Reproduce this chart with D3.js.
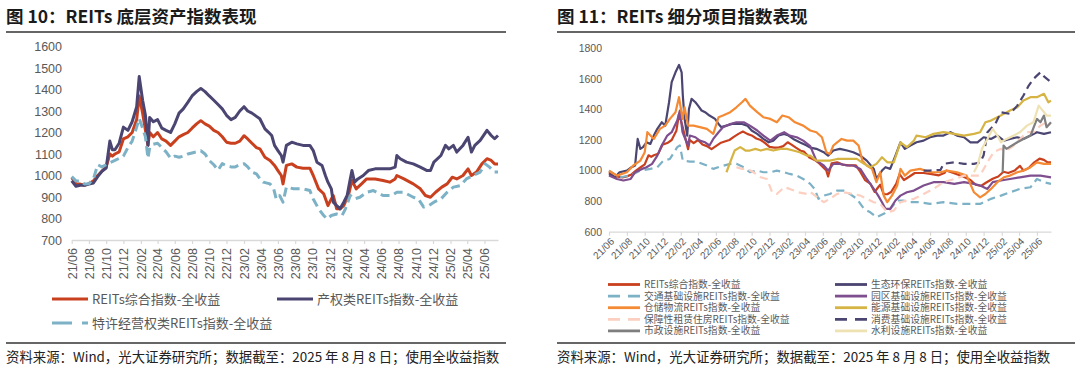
<!DOCTYPE html>
<html><head><meta charset="utf-8">
<script src="https://cdn.jsdelivr.net/npm/d3@7/dist/d3.min.js"></script>
<style>
body{margin:0;background:#fff;}
svg{display:block;font-family:"Noto Sans CJK SC","Noto Sans",sans-serif;}
</style></head><body>
<svg id="c" width="1080" height="371"></svg>
<script>
// ---------- DATA ----------
const tickLabels = ["21/06","21/08","21/10","21/12","22/02","22/04","22/06","22/08","22/10","22/12","23/02","23/04","23/06","23/08","23/10","23/12","24/02","24/04","24/06","24/08","24/10","24/12","25/02","25/04","25/06"];
const startDate = "2021-06-21", endDate = "2025-08-08";
const leftYTicks = [700,800,900,1000,1100,1200,1300,1400,1500,1600];
const rightYTicks = [600,800,1000,1200,1400,1600,1800];

const titleLeft = "图 10：REITs 底层资产指数表现";
const titleRight = "图 11：REITs 细分项目指数表现";
const sourceText = "资料来源：Wind，光大证券研究所；数据截至：2025 年 8 月 8 日；使用全收益指数";

// REITs综合指数-全收益
const reitsComposite = [["2021-06-21",990],["2021-07-06",962],["2021-07-21",960],["2021-08-06",955],["2021-08-21",962],["2021-09-06",975],["2021-09-21",1000],["2021-10-06",1020],["2021-10-21",1040],["2021-11-03",1100],["2021-11-12",1090],["2021-11-21",1100],["2021-12-06",1110],["2021-12-21",1170],["2022-01-06",1180],["2022-01-21",1200],["2022-02-06",1260],["2022-02-15",1370],["2022-02-27",1290],["2022-03-09",1210],["2022-03-18",1140],["2022-03-24",1200],["2022-04-06",1180],["2022-04-21",1200],["2022-05-06",1170],["2022-05-21",1160],["2022-06-06",1140],["2022-06-21",1160],["2022-07-06",1180],["2022-07-21",1190],["2022-08-06",1200],["2022-08-21",1220],["2022-09-06",1240],["2022-09-21",1255],["2022-10-06",1240],["2022-10-21",1230],["2022-11-06",1210],["2022-11-21",1200],["2022-12-06",1180],["2022-12-21",1155],["2023-01-06",1150],["2023-01-21",1150],["2023-02-06",1160],["2023-02-21",1185],["2023-03-06",1170],["2023-03-21",1150],["2023-04-06",1130],["2023-04-18",1124],["2023-05-06",1085],["2023-05-24",1070],["2023-06-09",1047],["2023-06-21",1023],["2023-07-03",1000],["2023-07-09",961],["2023-07-21",1047],["2023-08-09",1054],["2023-08-27",1039],["2023-09-18",1034],["2023-10-12",1034],["2023-10-24",1000],["2023-11-12",938],["2023-11-30",915],["2023-12-15",860],["2023-12-27",891],["2024-01-03",907],["2024-01-15",845],["2024-01-27",845],["2024-02-09",860],["2024-02-27",915],["2024-03-09",977],["2024-03-24",938],["2024-04-12",961],["2024-04-30",984],["2024-05-30",984],["2024-06-27",977],["2024-07-21",969],["2024-08-09",984],["2024-08-15",1000],["2024-09-09",984],["2024-10-12",961],["2024-11-06",938],["2024-11-24",907],["2024-12-12",899],["2024-12-30",922],["2025-01-21",946],["2025-02-09",961],["2025-02-27",992],["2025-03-15",984],["2025-04-06",1000],["2025-04-24",1031],["2025-05-06",1000],["2025-05-24",1016],["2025-06-12",1054],["2025-06-30",1078],["2025-07-15",1070],["2025-07-27",1054],["2025-08-08",1054]];

// 产权类REITs指数-全收益
const propertyReits = [["2021-06-21",975],["2021-07-06",950],["2021-07-21",955],["2021-08-06",955],["2021-08-21",960],["2021-09-06",965],["2021-09-21",995],["2021-10-06",1020],["2021-10-21",1035],["2021-11-03",1160],["2021-11-12",1120],["2021-11-21",1120],["2021-12-06",1150],["2021-12-21",1225],["2022-01-06",1210],["2022-01-21",1250],["2022-02-06",1320],["2022-02-15",1460],["2022-02-27",1350],["2022-03-09",1280],["2022-03-18",1140],["2022-03-24",1270],["2022-04-06",1250],["2022-04-21",1260],["2022-05-06",1220],["2022-05-21",1210],["2022-06-06",1200],["2022-06-21",1240],["2022-07-06",1290],["2022-07-21",1310],["2022-08-06",1340],["2022-08-21",1370],["2022-09-06",1390],["2022-09-21",1405],["2022-10-06",1390],["2022-10-21",1370],["2022-11-06",1350],["2022-11-21",1330],["2022-12-06",1310],["2022-12-21",1280],["2023-01-06",1260],["2023-01-21",1270],["2023-02-06",1300],["2023-02-21",1320],["2023-03-06",1300],["2023-03-21",1290],["2023-04-06",1275],["2023-04-18",1264],["2023-05-06",1217],["2023-05-18",1202],["2023-05-30",1186],["2023-06-09",1140],["2023-06-21",1116],["2023-07-03",1093],["2023-07-09",1062],["2023-07-21",1140],["2023-08-09",1155],["2023-08-27",1147],["2023-09-18",1140],["2023-10-12",1140],["2023-10-24",1116],["2023-11-06",1062],["2023-11-24",1047],["2023-12-06",1000],["2023-12-15",969],["2023-12-27",938],["2024-01-03",876],["2024-01-15",860],["2024-01-27",845],["2024-02-09",876],["2024-02-21",907],["2024-03-03",984],["2024-03-09",1023],["2024-03-18",969],["2024-03-30",984],["2024-04-18",1000],["2024-05-06",1023],["2024-05-30",1031],["2024-06-27",1031],["2024-07-21",1031],["2024-08-09",1039],["2024-08-15",1093],["2024-08-27",1078],["2024-09-18",1062],["2024-10-12",1054],["2024-11-06",1039],["2024-11-30",1023],["2024-12-12",1023],["2024-12-24",1062],["2025-01-18",1093],["2025-02-03",1140],["2025-02-15",1124],["2025-03-03",1140],["2025-03-15",1109],["2025-04-06",1140],["2025-04-24",1178],["2025-05-06",1109],["2025-05-18",1140],["2025-06-06",1163],["2025-06-30",1210],["2025-07-15",1186],["2025-07-27",1171],["2025-08-08",1186]];

// 特许经营权类REITs指数-全收益
const franchiseReits = [["2021-06-21",995],["2021-07-06",975],["2021-07-21",975],["2021-08-06",960],["2021-08-21",962],["2021-09-06",985],["2021-09-21",1050],["2021-10-06",1040],["2021-10-21",1050],["2021-11-03",1060],["2021-11-21",1070],["2021-12-06",1080],["2021-12-21",1090],["2022-01-06",1130],["2022-01-21",1160],["2022-02-06",1225],["2022-02-15",1265],["2022-02-27",1220],["2022-03-09",1180],["2022-03-18",1080],["2022-03-24",1130],["2022-04-06",1145],["2022-04-21",1150],["2022-05-06",1130],["2022-05-21",1110],["2022-06-06",1080],["2022-06-21",1090],["2022-07-06",1085],["2022-07-21",1090],["2022-08-06",1100],["2022-08-21",1105],["2022-09-06",1110],["2022-09-21",1115],["2022-10-06",1100],["2022-10-21",1070],["2022-11-06",1050],["2022-11-21",1025],["2022-12-06",1055],["2022-12-21",1045],["2023-01-06",1040],["2023-01-21",1040],["2023-02-06",1050],["2023-02-21",1055],["2023-03-06",1040],["2023-03-21",1016],["2023-04-06",1008],["2023-04-21",980],["2023-04-30",969],["2023-05-24",961],["2023-06-06",938],["2023-06-15",891],["2023-06-27",907],["2023-07-09",876],["2023-07-21",946],["2023-08-15",938],["2023-09-18",938],["2023-10-12",930],["2023-10-24",891],["2023-11-12",845],["2023-11-30",814],["2023-12-12",798],["2023-12-27",814],["2024-01-15",821],["2024-02-03",814],["2024-02-15",845],["2024-03-03",907],["2024-03-18",891],["2024-04-06",899],["2024-04-30",922],["2024-05-24",930],["2024-06-27",907],["2024-07-27",907],["2024-08-15",922],["2024-09-09",922],["2024-10-12",899],["2024-10-30",891],["2024-11-18",853],["2024-12-06",860],["2024-12-24",876],["2025-01-18",891],["2025-02-09",922],["2025-03-03",946],["2025-03-27",953],["2025-04-18",984],["2025-05-12",1000],["2025-06-06",1016],["2025-06-24",1054],["2025-07-09",1039],["2025-07-27",1016],["2025-08-08",1016]];

// 生态环保REITs指数-全收益
const ecoReits = [["2021-06-21",978],["2021-07-12",956],["2021-07-27",989],["2021-08-21",1000],["2021-09-06",1022],["2021-09-18",1033],["2021-09-27",1207],["2021-10-06",1142],["2021-10-15",1153],["2021-10-27",1185],["2021-11-09",1174],["2021-11-21",1229],["2021-12-03",1273],["2021-12-18",1316],["2021-12-30",1294],["2022-01-12",1447],["2022-01-21",1578],["2022-02-03",1643],["2022-02-15",1691],["2022-02-24",1643],["2022-02-28",1491],["2022-03-06",1338],["2022-03-15",1229],["2022-03-21",1403],["2022-03-30",1469],["2022-04-12",1447],["2022-04-21",1425],["2022-05-03",1393],["2022-05-15",1382],["2022-05-30",1360],["2022-06-18",1338],["2022-06-30",1305],["2022-07-09",1284],["2022-07-27",1294],["2022-08-15",1305],["2022-08-30",1305],["2022-09-18",1305],["2022-10-06",1294],["2022-10-21",1262],["2022-11-09",1240],["2022-11-30",1207],["2022-12-18",1185],["2023-01-03",1196],["2023-01-21",1229],["2023-02-09",1240],["2023-02-24",1229],["2023-03-12",1207],["2023-04-03",1185],["2023-04-27",1164],["2023-05-09",1150],["2023-05-30",1142],["2023-06-24",1120],["2023-07-09",1098],["2023-07-27",1131],["2023-08-18",1142],["2023-09-12",1131],["2023-10-03",1120],["2023-10-27",1098],["2023-11-18",1065],["2023-12-12",1011],["2023-12-21",945],["2024-01-09",1000],["2024-01-21",1022],["2024-02-06",1011],["2024-02-24",1098],["2024-03-12",1185],["2024-03-27",1142],["2024-04-15",1164],["2024-05-06",1185],["2024-05-30",1196],["2024-06-21",1218],["2024-07-15",1229],["2024-08-06",1229],["2024-08-30",1251],["2024-09-21",1229],["2024-10-15",1218],["2024-11-06",1185],["2024-11-30",1185],["2024-12-21",1218],["2025-01-15",1207],["2025-02-06",1229],["2025-02-28",1196],["2025-03-21",1207],["2025-04-15",1218],["2025-05-06",1207],["2025-05-30",1229],["2025-06-21",1251],["2025-07-15",1240],["2025-08-08",1251]];

// 交通基础设施REITs指数-全收益
const transportReits = [["2021-06-21",1000],["2021-07-27",956],["2021-09-03",967],["2021-10-06",1000],["2021-11-09",1011],["2021-12-03",1022],["2021-12-24",1065],["2022-01-15",1076],["2022-02-09",1153],["2022-02-18",1164],["2022-02-28",1065],["2022-03-24",1059],["2022-04-15",1059],["2022-05-21",1033],["2022-06-12",1011],["2022-07-06",1026],["2022-08-09",1044],["2022-08-30",1044],["2022-09-24",1022],["2022-10-15",989],["2022-11-09",1000],["2022-11-30",989],["2022-12-24",989],["2023-01-15",1000],["2023-02-09",989],["2023-02-28",978],["2023-03-24",967],["2023-04-15",945],["2023-05-09",913],["2023-05-24",880],["2023-06-06",815],["2023-06-24",836],["2023-07-15",847],["2023-08-09",869],["2023-08-30",869],["2023-09-21",847],["2023-10-15",815],["2023-11-09",749],["2023-11-30",727],["2023-12-21",695],["2024-01-15",717],["2024-02-06",749],["2024-03-01",804],["2024-03-21",804],["2024-04-15",793],["2024-05-18",793],["2024-06-21",782],["2024-08-06",793],["2024-09-21",782],["2024-11-06",782],["2024-12-09",782],["2025-01-15",815],["2025-02-18",836],["2025-03-21",858],["2025-04-24",880],["2025-05-30",891],["2025-06-21",945],["2025-07-15",924],["2025-08-08",913]];

// 园区基础设施REITs指数-全收益
const parkReits = [["2021-06-21",967],["2021-07-18",945],["2021-08-09",935],["2021-09-03",945],["2021-09-18",989],["2021-10-12",1011],["2021-10-27",1022],["2021-11-15",1044],["2021-12-03",1098],["2021-12-18",1164],["2022-01-06",1229],["2022-01-21",1251],["2022-02-09",1327],["2022-02-18",1393],["2022-02-27",1251],["2022-03-06",1218],["2022-03-18",1164],["2022-03-24",1229],["2022-04-12",1218],["2022-04-27",1196],["2022-05-15",1185],["2022-05-30",1164],["2022-06-12",1207],["2022-06-30",1251],["2022-07-15",1284],["2022-08-09",1305],["2022-08-30",1316],["2022-09-24",1316],["2022-10-15",1294],["2022-11-09",1262],["2022-11-30",1229],["2022-12-24",1196],["2023-01-15",1229],["2023-02-09",1251],["2023-02-28",1229],["2023-03-24",1218],["2023-04-15",1196],["2023-05-09",1160],["2023-05-30",1065],["2023-06-24",1033],["2023-07-09",1000],["2023-07-27",1044],["2023-08-18",1044],["2023-09-12",1033],["2023-10-03",1033],["2023-10-27",1011],["2023-11-18",945],["2023-12-12",880],["2023-12-27",836],["2024-01-09",793],["2024-01-21",749],["2024-02-06",749],["2024-02-24",804],["2024-03-12",836],["2024-04-03",858],["2024-04-27",869],["2024-05-30",902],["2024-07-03",924],["2024-08-06",924],["2024-09-12",913],["2024-10-15",924],["2024-11-18",913],["2024-12-09",902],["2025-01-03",880],["2025-01-21",924],["2025-02-18",935],["2025-03-21",945],["2025-04-24",956],["2025-05-30",967],["2025-07-03",967],["2025-08-08",956]];

// 仓储物流REITs指数-全收益
const logisticsReits = [["2021-06-21",1000],["2021-07-18",967],["2021-08-21",989],["2021-09-12",1033],["2021-10-06",1065],["2021-10-21",1120],["2021-10-30",1251],["2021-11-21",1207],["2021-12-12",1273],["2021-12-30",1294],["2022-01-15",1338],["2022-02-03",1382],["2022-02-15",1480],["2022-02-27",1338],["2022-03-06",1414],["2022-03-18",1294],["2022-04-06",1294],["2022-04-27",1284],["2022-05-21",1273],["2022-06-12",1240],["2022-06-30",1349],["2022-07-15",1360],["2022-08-09",1382],["2022-08-30",1414],["2022-09-18",1447],["2022-09-30",1469],["2022-10-15",1425],["2022-11-09",1382],["2022-11-30",1349],["2022-12-24",1338],["2023-01-15",1316],["2023-02-03",1360],["2023-02-24",1349],["2023-03-18",1316],["2023-04-15",1294],["2023-05-09",1262],["2023-05-30",1251],["2023-06-18",1218],["2023-07-03",1120],["2023-07-15",1109],["2023-07-27",1164],["2023-08-09",1185],["2023-08-24",1207],["2023-09-12",1196],["2023-10-03",1196],["2023-10-21",1164],["2023-11-03",1065],["2023-11-18",1033],["2023-12-06",1011],["2023-12-21",924],["2024-01-03",989],["2024-01-15",836],["2024-01-27",793],["2024-02-12",836],["2024-03-01",902],["2024-03-12",1011],["2024-03-27",967],["2024-04-15",1000],["2024-05-18",1011],["2024-06-21",989],["2024-07-27",989],["2024-08-18",1000],["2024-09-21",989],["2024-10-24",967],["2024-11-18",858],["2024-12-09",825],["2024-12-27",847],["2025-01-15",880],["2025-02-06",924],["2025-02-28",956],["2025-03-21",967],["2025-04-15",989],["2025-05-06",1000],["2025-05-30",1022],["2025-06-21",1054],["2025-07-15",1044],["2025-08-08",1044]];

// 能源基础设施REITs指数-全收益
const energyReits = [["2022-07-27",989],["2022-08-15",1087],["2022-08-24",1131],["2022-09-12",1153],["2022-09-30",1131],["2022-10-15",1131],["2022-11-03",1142],["2022-11-21",1131],["2022-12-12",1142],["2023-01-03",1131],["2023-01-27",1142],["2023-02-18",1142],["2023-03-12",1131],["2023-04-03",1120],["2023-04-27",1098],["2023-05-09",1098],["2023-05-30",1065],["2023-06-24",1065],["2023-07-15",1065],["2023-08-09",1076],["2023-09-12",1076],["2023-10-15",1076],["2023-11-09",1044],["2023-11-30",1022],["2023-12-21",1044],["2024-01-09",1087],["2024-01-27",1054],["2024-02-18",1054],["2024-03-12",1185],["2024-04-03",1153],["2024-04-27",1196],["2024-05-06",1229],["2024-06-06",1218],["2024-07-03",1240],["2024-08-06",1251],["2024-09-12",1240],["2024-10-15",1229],["2024-11-18",1240],["2024-12-09",1251],["2024-12-27",1316],["2025-01-15",1327],["2025-02-06",1349],["2025-02-28",1371],["2025-03-21",1393],["2025-04-15",1414],["2025-05-06",1458],["2025-05-30",1480],["2025-06-21",1480],["2025-07-15",1502],["2025-07-30",1447],["2025-08-08",1458]];

// 保障性租赁住房REITs指数-全收益
const housingReits = [["2022-08-30",1022],["2022-09-18",1011],["2022-10-06",1011],["2022-10-27",989],["2022-11-21",956],["2022-12-12",945],["2022-12-30",858],["2023-01-15",847],["2023-02-09",891],["2023-02-28",880],["2023-03-30",858],["2023-04-27",847],["2023-05-09",860],["2023-05-30",830],["2023-06-24",793],["2023-07-15",815],["2023-08-09",847],["2023-08-30",858],["2023-10-03",847],["2023-10-27",836],["2023-11-18",815],["2023-12-12",793],["2024-01-03",782],["2024-01-27",727],["2024-02-18",738],["2024-03-12",793],["2024-04-03",804],["2024-04-27",815],["2024-05-30",847],["2024-07-03",880],["2024-08-06",924],["2024-09-12",945],["2024-10-15",967],["2024-11-18",967],["2024-12-09",967],["2025-01-03",1054],["2025-01-24",1120],["2025-02-18",1142],["2025-03-09",1131],["2025-04-03",1164],["2025-04-24",1207],["2025-05-18",1251],["2025-06-09",1251],["2025-07-03",1294],["2025-07-24",1316],["2025-08-08",1305]];

// 消费基础设施REITs指数-全收益
const consumerReits = [["2024-05-30",1000],["2024-06-21",1000],["2024-07-27",1005],["2024-08-06",1044],["2024-09-12",1054],["2024-10-15",1044],["2024-11-18",1044],["2024-12-09",1054],["2024-12-21",1100],["2025-01-03",1250],["2025-01-30",1305],["2025-02-18",1382],["2025-03-21",1371],["2025-04-15",1425],["2025-05-06",1491],["2025-05-24",1556],["2025-06-09",1600],["2025-07-03",1643],["2025-07-18",1611],["2025-08-08",1578]];

// 市政设施REITs指数-全收益
const municipalReits = [["2025-02-24",989],["2025-02-27",1164],["2025-03-09",1142],["2025-04-15",1185],["2025-05-06",1207],["2025-05-30",1229],["2025-06-21",1338],["2025-07-03",1316],["2025-07-15",1360],["2025-07-24",1284],["2025-08-08",1316]];

// 水利设施REITs指数-全收益
const waterReits = [["2024-11-18",989],["2024-11-30",1033],["2024-12-15",1142],["2025-01-03",1207],["2025-01-21",1273],["2025-02-06",1229],["2025-02-18",1185],["2025-03-09",1207],["2025-04-03",1229],["2025-04-24",1251],["2025-05-18",1294],["2025-06-09",1316],["2025-06-27",1425],["2025-07-15",1382],["2025-07-24",1360],["2025-08-08",1360]];

const leftSeries = [
  {name:"REITs综合指数-全收益", data:reitsComposite, color:"#C9401F", dash:null},
  {name:"产权类REITs指数-全收益", data:propertyReits, color:"#4B4572", dash:null},
  {name:"特许经营权类REITs指数-全收益", data:franchiseReits, color:"#7DB1C6", dash:"9,5"}
];
const rightSeries = [
  {name:"REITs综合指数-全收益", data:reitsComposite, color:"#C9401F", dash:null},
  {name:"生态环保REITs指数-全收益", data:ecoReits, color:"#4B4572", dash:null},
  {name:"交通基础设施REITs指数-全收益", data:transportReits, color:"#7DB1C6", dash:"8,5"},
  {name:"园区基础设施REITs指数-全收益", data:parkReits, color:"#7E4E8F", dash:null},
  {name:"仓储物流REITs指数-全收益", data:logisticsReits, color:"#F58A34", dash:null},
  {name:"能源基础设施REITs指数-全收益", data:energyReits, color:"#D6B443", dash:null},
  {name:"保障性租赁住房REITs指数-全收益", data:housingReits, color:"#FCCFC0", dash:"8,5"},
  {name:"消费基础设施REITs指数-全收益", data:consumerReits, color:"#4B4572", dash:"8,5"},
  {name:"市政设施REITs指数-全收益", data:municipalReits, color:"#7F7F7F", dash:null},
  {name:"水利设施REITs指数-全收益", data:waterReits, color:"#EEE2B3", dash:null}
];

// ---------- DRAW ----------
const svg = d3.select("#c");
const parse = d3.timeParse("%Y-%m-%d");
const tickDates = tickLabels.map(s => new Date(2000 + +s.slice(0,2), +s.slice(3) - 1, 21));
const labelColor = "#595959";

function header(x0, x1, title) {
  svg.append("text").attr("x", x0).attr("y", 23).attr("font-size", 17.5).attr("font-weight", "bold")
    .attr("fill", "#1a1a1a").text(title);
  svg.append("line").attr("x1", x0).attr("x2", x1).attr("y1", 32).attr("y2", 32)
    .attr("stroke", "#333").attr("stroke-width", 1.3);
  svg.append("line").attr("x1", x0).attr("x2", x1).attr("y1", 343).attr("y2", 343)
    .attr("stroke", "#333").attr("stroke-width", 1.3);
  svg.append("text").attr("x", x0).attr("y", 362).attr("font-size", 13.4).attr("fill", "#222").text(sourceText);
}

function panel(cfg) {
  const x = d3.scaleTime().domain([parse(startDate), parse(endDate)]).range([cfg.x0, cfg.x1]);
  const y = d3.scaleLinear().domain(cfg.yDomain).range([cfg.yBottom, cfg.yTop]);
  const g = svg.append("g");
  const yAxis = d3.axisLeft(y).tickValues(cfg.yTicks).tickSize(0).tickPadding(0).tickFormat(d3.format("d"));
  const ya = g.append("g").attr("transform", `translate(${cfg.yLabelX},0)`).call(yAxis);
  ya.select(".domain").remove();
  ya.selectAll("text").attr("font-size", cfg.yFont).attr("fill", labelColor).attr("font-family", null);
  const xAxis = d3.axisBottom(x).tickValues(tickDates).tickSize(4).tickSizeOuter(0).tickFormat((d,i) => tickLabels[i]);
  const xa = g.append("g").attr("transform", `translate(0,${cfg.yBottom})`).call(xAxis);
  xa.select(".domain").attr("stroke", "#d9d9d9").attr("stroke-width", 1.3);
  xa.selectAll(".tick line").attr("stroke", "#d9d9d9").attr("stroke-width", 1.2);
  xa.selectAll("text").attr("font-size", cfg.xFont).attr("fill", labelColor).attr("font-family", null);
  if (cfg.rot === -90) {
    xa.selectAll("text").attr("text-anchor", "end").attr("dy", "0.35em").attr("y", 0)
      .attr("transform", "translate(0,8) rotate(-90)");
  } else {
    xa.selectAll("text").attr("text-anchor", "end").attr("dy", "0.35em").attr("y", 0)
      .attr("transform", "translate(3,8) rotate(-45)");
  }
  const line = d3.line().x(d => x(parse(d[0]))).y(d => y(d[1]));
  cfg.series.forEach(s => {
    g.append("path").datum(s.data).attr("d", line).attr("fill", "none")
      .attr("stroke", s.color).attr("stroke-width", cfg.lw)
      .attr("stroke-linejoin", "round")
      .attr("stroke-dasharray", s.dash);
  });
  cfg.series.forEach((s, i) => {
    const p = cfg.legendPos(i);
    svg.append("line").attr("x1", p.x).attr("x2", p.x + cfg.legLen).attr("y1", p.y).attr("y2", p.y)
      .attr("stroke", s.color).attr("stroke-width", cfg.legW).attr("stroke-dasharray", s.dash ? cfg.legDash : null);
    svg.append("text").attr("x", p.x + cfg.legLen + 4).attr("y", p.y).attr("dy", "0.36em")
      .attr("font-size", cfg.legFont).attr("fill", labelColor).text(s.name);
  });
}

header(6, 506, titleLeft);
header(557, 1075, titleRight);

panel({
  x0: 71.7, x1: 498, yTop: 46.5, yBottom: 240, yDomain: [700, 1600], yTicks: leftYTicks,
  yLabelX: 62, yFont: 12.5, xFont: 12.5, rot: -90, lw: 3, series: leftSeries,
  legLen: 36, legW: 3, legDash: "20,10", legFont: 13,
  legendPos: i => ({x: i === 1 ? 277 : 52, y: i === 2 ? 323 : 299})
});

panel({
  x0: 609, x1: 1051, yTop: 48.3, yBottom: 231.7, yDomain: [600, 1800], yTicks: rightYTicks,
  yLabelX: 602, yFont: 10.5, xFont: 10, rot: -45, lw: 2.2, series: rightSeries,
  legLen: 32, legW: 2.8, legDash: "12,8", legFont: 9.8,
  legendPos: i => ({x: i % 2 === 0 ? 608 : 835, y: 284.5 + Math.floor(i / 2) * 11.6})
});
</script>
</body></html>
